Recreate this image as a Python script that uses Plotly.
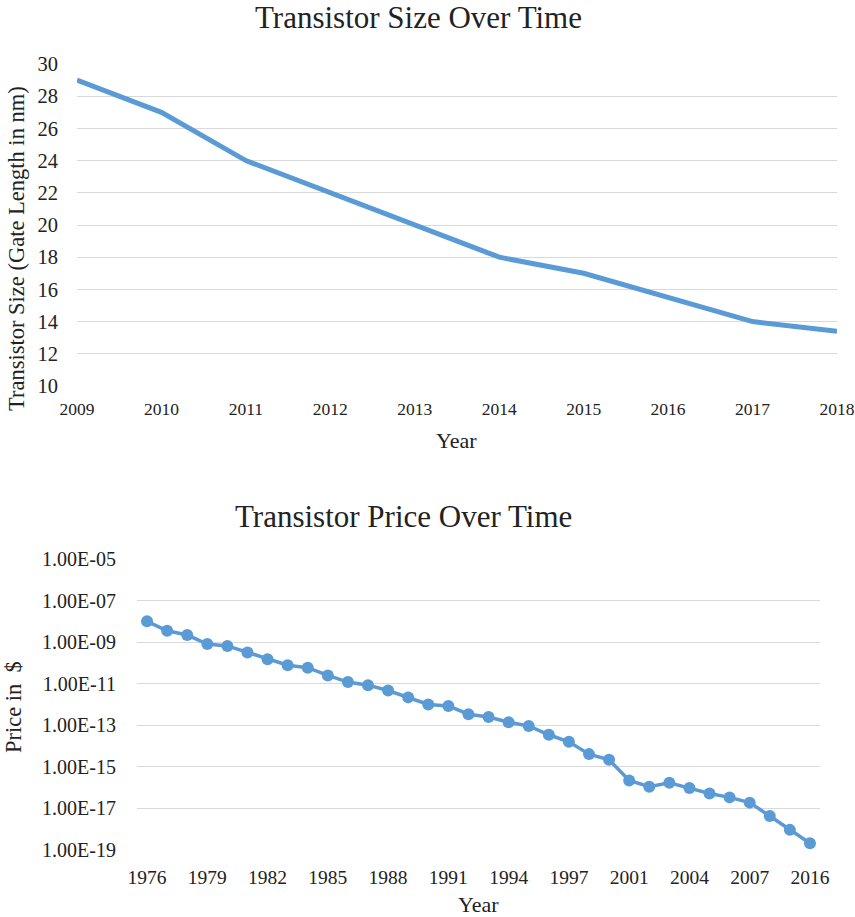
import plotly.graph_objects as go

W, H = 855, 917

# ---- data: transistor size ----
size_years = ["2009", "2010", "2011", "2012", "2013", "2014", "2015", "2016", "2017", "2018"]
size_nm = [29, 27, 24, 22, 20, 18, 17, 15.5, 14, 13.4]

# ---- data: transistor price ----
price_years = ["1976", "1977", "1978", "1979", "1980", "1981", "1982", "1983", "1984", "1985",
               "1986", "1987", "1988", "1989", "1990", "1991", "1992", "1993", "1994", "1995",
               "1996", "1997", "1998", "2000", "2001", "2002", "2003", "2004", "2005", "2006",
               "2007", "2010", "2013", "2016"]
price_usd = [1.0e-8, 3.5e-9, 2.2e-9, 8.1e-10, 6.6e-10, 3.2e-10, 1.5e-10, 7.8e-11, 5.9e-11, 2.5e-11,
             1.2e-11, 8.5e-12, 4.7e-12, 2.2e-12, 1.0e-12, 8.5e-13, 3.4e-13, 2.5e-13, 1.4e-13, 9.3e-14,
             3.5e-14, 1.6e-14, 4.1e-15, 2.2e-15, 2.2e-16, 1.1e-16, 1.7e-16, 9.5e-17, 5.2e-17, 3.4e-17,
             1.9e-17, 4.3e-18, 9.3e-19, 2.1e-19]
price_tick_vals = [1e-5, 1e-7, 1e-9, 1e-11, 1e-13, 1e-15, 1e-17, 1e-19]
price_tick_text = ["1.00E-05", "1.00E-07", "1.00E-09", "1.00E-11", "1.00E-13", "1.00E-15", "1.00E-17", "1.00E-19"]

BLUE = "#5B9BD5"
GRID = "#D9D9D9"
FONT = "Liberation Serif, Times New Roman, serif"
TXT = "#222222"


def px(x):
    return x / W


def py(y):
    return 1 - y / H


fig = go.Figure()

fig.add_trace(go.Scatter(
    x=size_years, y=size_nm, mode="lines",
    line=dict(color=BLUE, width=5),
    xaxis="x", yaxis="y", showlegend=False, hoverinfo="x+y"))

fig.add_trace(go.Scatter(
    x=price_years, y=price_usd, mode="lines+markers",
    line=dict(color=BLUE, width=3.5),
    marker=dict(color=BLUE, size=12),
    xaxis="x2", yaxis="y2", showlegend=False, hoverinfo="x+y"))

fig.update_layout(
    width=W, height=H,
    margin=dict(l=0, r=0, t=0, b=0),
    paper_bgcolor="white", plot_bgcolor="white",
    font=dict(family=FONT, color=TXT),
    xaxis=dict(
        type="category", domain=[px(77), px(837)], anchor="y",
        range=[0, len(size_years) - 1], automargin=False,
        showgrid=False, zeroline=False, showline=False,
        ticks="", tickfont=dict(size=17.5, family=FONT, color=TXT),
        ticklabelstandoff=10,
    ),
    yaxis=dict(
        domain=[py(386), py(64)], anchor="x", automargin=False,
        range=[10, 30], dtick=2, tick0=10,
        showgrid=True, gridcolor=GRID, gridwidth=1.3,
        zeroline=False, showline=False, ticks="",
        tickfont=dict(size=20.5, family=FONT, color=TXT),
        ticklabelstandoff=18,
    ),
    xaxis2=dict(
        type="category", domain=[px(137), px(820)], anchor="y2",
        range=[-0.5, len(price_years) - 0.5], automargin=False,
        tickmode="array",
        tickvals=price_years[::3],
        ticktext=price_years[::3],
        showgrid=False, zeroline=False, showline=False,
        ticks="", tickfont=dict(size=19.5, family=FONT, color=TXT),
        ticklabelstandoff=13,
    ),
    yaxis2=dict(
        type="log", domain=[py(850), py(559)], anchor="x2", automargin=False,
        range=[-19, -5],
        tickmode="array", tickvals=price_tick_vals, ticktext=price_tick_text,
        showgrid=True, gridcolor=GRID, gridwidth=1.3,
        zeroline=False, showline=False, ticks="",
        tickfont=dict(size=20, family=FONT, color=TXT),
        ticklabelstandoff=20,
    ),
)

annotations = [
    dict(text="Transistor Size Over Time", x=px(418), y=py(18), font=dict(size=31)),
    dict(text="Year", x=px(456), y=py(440), font=dict(size=22)),
    dict(text="Transistor Size (Gate Length in nm)", x=px(16), y=py(249), font=dict(size=22.5), textangle=-90),
    dict(text="Transistor Price Over Time", x=px(403), y=py(516), font=dict(size=31)),
    dict(text="Year", x=px(478), y=py(904), font=dict(size=22)),
    dict(text="Price in  $", x=px(13), y=py(707), font=dict(size=22.5), textangle=-90),
]
for a in annotations:
    a.update(xref="paper", yref="paper", showarrow=False, xanchor="center", yanchor="middle",
             borderpad=0)
    a["font"].update(family=FONT, color=TXT)
fig.update_layout(annotations=annotations)

fig.write_html("out.html")
